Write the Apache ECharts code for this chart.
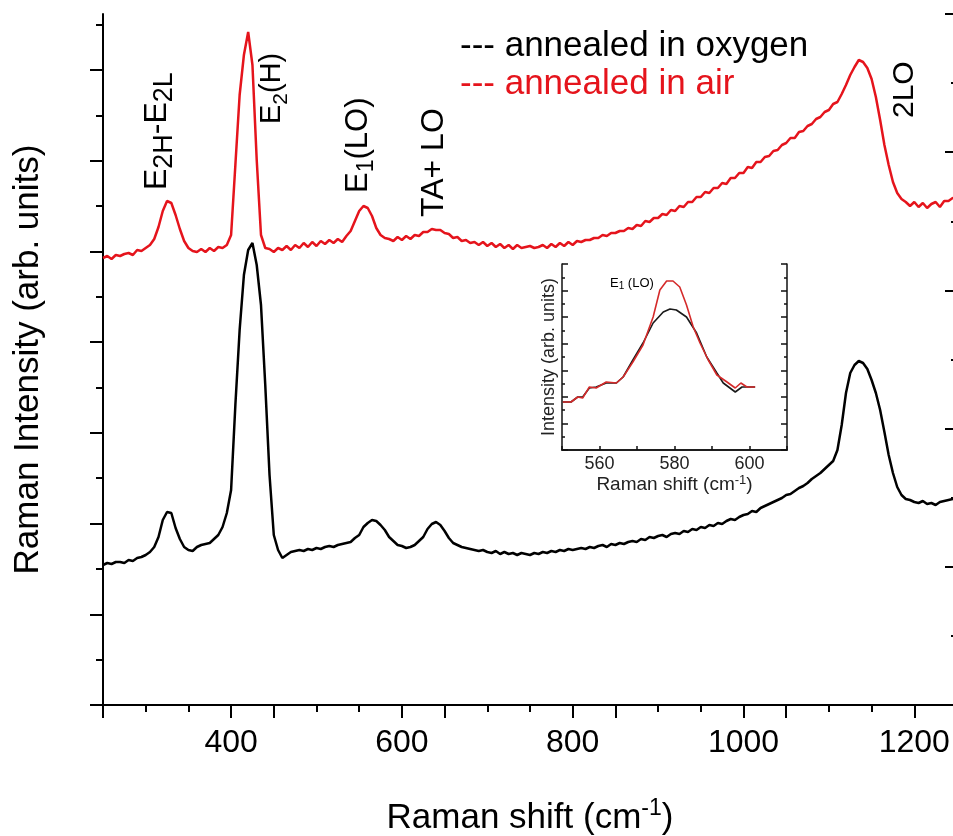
<!DOCTYPE html>
<html>
<head>
<meta charset="utf-8">
<title>Raman spectra</title>
<script src="https://cdn.jsdelivr.net/npm/echarts@6.0.0/dist/echarts.min.js"></script>
<style>
  html, body { margin: 0; padding: 0; background: #fff; }
  #chart { width: 953px; height: 836px; }
</style>
</head>
<body>
<div id="chart"></div>
<script>
// Raman shift (cm-1), sampled every 5
var SHIFT = [
  250,255,260,265,270,275,280,285,290,295,
  300,305,310,315,320,325,330,335,340,345,
  350,355,360,365,370,375,380,385,390,395,
  400,405,410,415,420,425,430,435,440,445,
  450,455,460,465,470,475,480,485,490,495,
  500,505,510,515,520,525,530,535,540,545,
  550,555,560,565,570,575,580,585,590,595,
  600,605,610,615,620,625,630,635,640,645,
  650,655,660,665,670,675,680,685,690,695,
  700,705,710,715,720,725,730,735,740,745,
  750,755,760,765,770,775,780,785,790,795,
  800,805,810,815,820,825,830,835,840,845,
  850,855,860,865,870,875,880,885,890,895,
  900,905,910,915,920,925,930,935,940,945,
  950,955,960,965,970,975,980,985,990,995,
  1000,1005,1010,1015,1020,1025,1030,1035,1040,1045,
  1050,1055,1060,1065,1070,1075,1080,1085,1090,1095,
  1100,1105,1110,1115,1120,1125,1130,1135,1140,1145,
  1150,1155,1160,1165,1170,1175,1180,1185,1190,1195,
  1200,1205,1210,1215,1220,1225,1230,1235,1240,1245,
  1250
];

// annealed in oxygen (black)
var OXYGEN = [
  140,142,141,143,143,142,145,144,147,148,
  150,153,158,168,185,193,192,177,166,158,
  155,154,158,160,161,162,166,170,178,192,
  215,300,375,430,455,462,440,400,320,230,
  170,155,147,150,153,154,155,154,156,155,
  157,156,158,159,158,160,161,162,163,167,
  170,178,182,185,184,180,175,168,164,160,
  159,157,158,160,164,168,176,181,183,180,
  174,167,162,160,158,157,156,155,154,155,
  153,152,154,151,153,151,152,150,152,151,
  150,152,151,153,152,154,153,155,154,156,
  155,156,157,156,158,157,159,160,158,161,
  160,162,161,163,164,163,166,165,168,167,
  169,170,168,171,172,171,174,173,176,175,
  178,177,180,179,182,181,184,186,185,188,
  190,191,194,193,197,199,201,203,205,207,
  210,211,214,217,219,222,226,229,232,236,
  240,244,255,280,312,332,340,344,342,336,
  325,312,295,273,250,232,218,210,206,205,
  203,202,204,201,202,200,203,204,205,206,
  207
];

// annealed in air (red)
var AIR = [
  447,449,446,450,449,451,452,450,455,454,
  457,460,466,478,494,504,502,490,476,464,
  457,454,453,456,453,457,454,458,457,460,
  470,540,610,650,673,640,545,470,457,456,
  453,457,455,459,455,460,457,462,458,463,
  459,464,461,465,462,466,463,469,474,484,
  494,499,497,489,477,470,467,466,464,468,
  465,469,466,470,469,473,473,476,475,475,
  472,471,467,468,464,465,462,463,460,463,
  459,462,458,461,457,460,456,460,457,458,
  459,457,458,460,457,461,458,462,459,463,
  460,464,463,465,465,467,467,470,469,472,
  472,474,474,477,476,480,479,484,483,487,
  487,491,490,495,494,499,498,503,503,508,
  508,513,512,517,517,522,521,527,527,532,
  532,538,537,543,543,548,549,554,555,560,
  562,567,567,573,574,579,581,586,588,593,
  595,601,603,611,620,630,638,645,643,637,
  626,608,585,560,540,523,512,506,503,499,
  503,498,502,497,501,503,498,504,504,507,
  506
];

// inset: E1(LO) band
var INSET_SHIFT_O = [550.2,552.4,554.2,555.5,557.3,559.1,561.8,564.5,566.3,568.9,571.6,574.3,577.0,578.8,580.5,583.2,585.9,588.6,591.3,593.0,596.2,598.0,599.7,601.5];
var INSET_OXYGEN  = [48,48,53,53,62,63,67,67,73,90,107,127,138,141,140,133,117,93,77,67,58,63,63,63];
var INSET_SHIFT_A = [550.2,552.4,554.2,555.5,557.3,559.1,561.8,564.5,566.3,568.9,571.6,574.3,576.1,577.9,579.6,581.4,583.2,585.0,586.8,589.0,591.3,594.0,596.2,597.7,599.3,601.5];
var INSET_AIR     = [48,48,53,52,63,62,68,67,73,88,105,133,160,169,169,163,145,123,107,90,75,68,62,67,63,63];

// axis ticks
var X_MAJOR = [400, 600, 800, 1000, 1200];
var X_MINOR = [300, 500, 700, 900, 1100];
var Y_MAJOR = [0, 90.7, 181.4, 272.1, 362.8, 453.5, 544.2, 634.9];
var Y_MINOR = [45.4, 136.1, 226.8, 317.5, 408.2, 498.9, 589.6, 680.3];
var INSET_X_LABELS = [560, 580, 600];

var FONT = '"Liberation Sans", Arial, sans-serif';
var BLACK = '#000000';
var RED = '#e5141c';

function pairs(xs, ys) {
  return xs.map(function (x, i) { return [x, ys[i]]; });
}

var axisLine = { show: true, lineStyle: { color: BLACK, width: 2 } };

var chart = echarts.init(document.getElementById('chart'), null, { renderer: 'canvas' });

function subRich(main, sub) {
  return {
    m: { fontSize: main, lineHeight: main + 10, fontFamily: FONT, color: BLACK },
    s: { fontSize: sub, lineHeight: sub, fontFamily: FONT, color: BLACK, verticalAlign: 'bottom' }
  };
}

function label(text, x, y, size, rich) {
  return {
    type: 'text',
    x: x, y: y,
    rotation: Math.PI / 2,
    silent: true,
    style: {
      text: text,
      rich: rich,
      fill: BLACK,
      fontSize: size,
      fontFamily: FONT,
      align: 'left',
      verticalAlign: 'middle'
    }
  };
}

var option = {
  animation: false,
  backgroundColor: '#ffffff',
  textStyle: { fontFamily: FONT, color: BLACK },
  legend: {
    orient: 'vertical',
    left: 450,
    top: 24,
    itemWidth: 0,
    itemHeight: 0,
    itemGap: 3,
    icon: 'rect',
    formatter: '--- {name}',
    textStyle: { fontSize: 35, fontFamily: FONT },
    data: [
      { name: 'annealed in oxygen', textStyle: { color: BLACK } },
      { name: 'annealed in air', textStyle: { color: RED } }
    ]
  },
  grid: [
    { left: 103, top: 14, width: 854, height: 691, outerBoundsMode: 'none', containLabel: false },
    { left: 562, top: 264, width: 225, height: 186, show: true, backgroundColor: '#fff', borderWidth: 0, outerBoundsMode: 'none', containLabel: false }
  ],
  xAxis: [
    {
      gridIndex: 0, type: 'value', position: 'bottom',
      min: 250, max: 1250,
      axisLine: axisLine,
      axisTick: { show: true, customValues: X_MAJOR, length: 13, lineStyle: { color: BLACK, width: 2 } },
      axisLabel: {
        customValues: X_MAJOR, fontSize: 32, color: BLACK, margin: 22,
        formatter: function (v) { return String(v); }
      },
      splitLine: { show: false },
      name: 'Raman shift (cm{sup|-1})',
      nameLocation: 'middle',
      nameGap: 92,
      nameTextStyle: {
        fontSize: 35, color: BLACK, lineHeight: 42,
        rich: { sup: { fontSize: 23, lineHeight: 23, verticalAlign: 'top', color: BLACK } }
      }
    },
    {
      gridIndex: 0, type: 'value', position: 'top',
      min: 200, max: 1200, interval: 200,
      axisLine: axisLine,
      axisTick: { show: true, inside: true, length: 13, lineStyle: { color: BLACK, width: 2 } },
      minorTick: { show: true, splitNumber: 2, length: 7, lineStyle: { color: BLACK, width: 2 } },
      axisLabel: { show: false },
      splitLine: { show: false }
    },
    {
      gridIndex: 0, type: 'value', position: 'bottom',
      min: 250, max: 1250,
      axisLine: { show: false },
      axisTick: { show: true, customValues: X_MINOR, length: 7, lineStyle: { color: BLACK, width: 2 } },
      axisLabel: { show: false },
      splitLine: { show: false }
    },
    {
      gridIndex: 1, type: 'value', position: 'bottom',
      min: 550, max: 610, interval: 10,
      axisLine: { show: true, lineStyle: { color: '#111', width: 1.5 } },
      axisTick: { show: true, inside: true, length: 4, lineStyle: { color: '#111', width: 1.5 } },
      axisLabel: {
        fontSize: 18, color: '#222', margin: 5,
        formatter: function (v) { return INSET_X_LABELS.indexOf(v) >= 0 ? String(v) : ''; }
      },
      splitLine: { show: false },
      name: 'Raman shift (cm{sup|-1})',
      nameLocation: 'middle',
      nameGap: 18,
      nameTextStyle: {
        fontSize: 19, color: '#222', lineHeight: 22,
        rich: { sup: { fontSize: 13, lineHeight: 13, verticalAlign: 'top', color: '#222' } }
      }
    },
    {
      gridIndex: 1, type: 'value', position: 'top',
      min: 550, max: 610,
      axisLine: { show: true, lineStyle: { color: '#111', width: 1.5 } },
      axisTick: { show: false },
      axisLabel: { show: false },
      splitLine: { show: false }
    }
  ],
  yAxis: [
    {
      gridIndex: 0, type: 'value', position: 'left',
      min: 0, max: 691,
      axisLine: axisLine,
      axisTick: { show: true, customValues: Y_MAJOR, length: 13, lineStyle: { color: BLACK, width: 2 } },
      axisLabel: { show: false },
      splitLine: { show: false },
      name: 'Raman Intensity (arb. units)',
      nameLocation: 'middle',
      nameRotate: 90,
      nameGap: 57,
      nameTextStyle: { fontSize: 35, color: BLACK }
    },
    {
      gridIndex: 0, type: 'value', position: 'right',
      min: 0, max: 5, interval: 1,
      axisLine: axisLine,
      axisTick: { show: true, inside: true, length: 12, lineStyle: { color: BLACK, width: 2 } },
      minorTick: { show: true, splitNumber: 2, length: 6, lineStyle: { color: BLACK, width: 2 } },
      axisLabel: { show: false },
      splitLine: { show: false }
    },
    {
      gridIndex: 0, type: 'value', position: 'left',
      min: 0, max: 691,
      axisLine: { show: false },
      axisTick: { show: true, customValues: Y_MINOR, length: 7, lineStyle: { color: BLACK, width: 2 } },
      axisLabel: { show: false },
      splitLine: { show: false }
    },
    {
      gridIndex: 1, type: 'value', position: 'left',
      min: 0, max: 186, interval: 186 / 7,
      axisLine: { show: true, lineStyle: { color: '#111', width: 1.5 } },
      axisTick: { show: true, inside: true, length: 6, lineStyle: { color: '#111', width: 1.5 } },
      minorTick: { show: true, splitNumber: 2, length: 3, lineStyle: { color: '#111', width: 1.5 } },
      axisLabel: { show: false },
      splitLine: { show: false },
      name: 'Intensity (arb. units)',
      nameLocation: 'middle',
      nameRotate: 90,
      nameGap: 4,
      nameTextStyle: { fontSize: 18, color: '#222' }
    },
    {
      gridIndex: 1, type: 'value', position: 'right',
      min: 0, max: 186, interval: 186 / 7,
      axisLine: { show: true, lineStyle: { color: '#111', width: 1.5 } },
      axisTick: { show: true, inside: true, length: 6, lineStyle: { color: '#111', width: 1.5 } },
      minorTick: { show: true, splitNumber: 2, length: 3, lineStyle: { color: '#111', width: 1.5 } },
      axisLabel: { show: false },
      splitLine: { show: false }
    }
  ],
  series: [
    {
      name: 'annealed in oxygen', type: 'line',
      xAxisIndex: 0, yAxisIndex: 0,
      data: pairs(SHIFT, OXYGEN),
      showSymbol: false, symbol: 'none',
      lineStyle: { color: BLACK, width: 2.5 },
      itemStyle: { color: BLACK }
    },
    {
      name: 'annealed in air', type: 'line',
      xAxisIndex: 0, yAxisIndex: 0,
      data: pairs(SHIFT, AIR),
      showSymbol: false, symbol: 'none',
      lineStyle: { color: RED, width: 2.5 },
      itemStyle: { color: RED }
    },
    {
      name: 'inset oxygen', type: 'line',
      xAxisIndex: 3, yAxisIndex: 3,
      data: pairs(INSET_SHIFT_O, INSET_OXYGEN),
      showSymbol: false, symbol: 'none',
      lineStyle: { color: '#1a1a1a', width: 1.6 }
    },
    {
      name: 'inset air', type: 'line',
      xAxisIndex: 3, yAxisIndex: 3,
      data: pairs(INSET_SHIFT_A, INSET_AIR),
      showSymbol: false, symbol: 'none',
      lineStyle: { color: '#d42a2a', width: 1.6 }
    }
  ],
  graphic: [
    label('{m|E}{s|2H}{m|-E}{s|2L}', 157, 190, 32, subRich(32, 27)),
    label('{m|E}{s|2}{m|(H)}', 272, 124, 29, subRich(29, 21)),
    label('{m|E}{s|1}{m|(LO)}', 358, 193, 31, subRich(31, 23)),
    label('TA+ LO', 434, 217, 32),
    label('2LO', 905, 118, 30),
    {
      type: 'text', x: 610, y: 283, silent: true,
      style: {
        text: '{m|E}{s|1}{m| (LO)}',
        rich: {
          m: { fontSize: 13, lineHeight: 16, fontFamily: FONT, color: '#222' },
          s: { fontSize: 10, lineHeight: 10, fontFamily: FONT, color: '#222', verticalAlign: 'bottom' }
        },
        align: 'left', verticalAlign: 'middle'
      }
    }
  ]
};

chart.setOption(option);
</script>
</body>
</html>
